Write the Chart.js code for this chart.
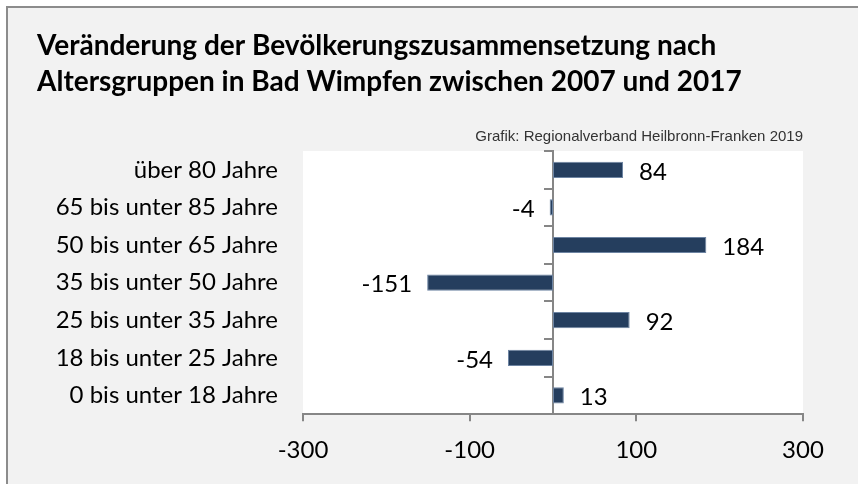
<!DOCTYPE html>
<html>
<head>
<meta charset="utf-8">
<script src="https://cdn.jsdelivr.net/npm/chart.js@4.4.1/dist/chart.umd.min.js"></script>
<style>
  html, body { margin: 0; padding: 0; background: #ffffff; }
  #frame { position: absolute; left: 6px; top: 6px; width: 900px; height: 560px; background: #f2f2f2; border: 2px solid #8c8c8c; }
  #wrap { position: absolute; left: 0; top: 0; width: 858px; height: 484px; }
</style>
</head>
<body>
<div id="frame"></div>
<div id="wrap"><canvas id="myChart" width="858" height="484"></canvas></div>
<script>
// Altersgruppen (von oben nach unten)
var categories = [
	'über 80 Jahre',
	'65 bis unter 85 Jahre',
	'50 bis unter 65 Jahre',
	'35 bis unter 50 Jahre',
	'25 bis unter 35 Jahre',
	'18 bis unter 25 Jahre',
	'0 bis unter 18 Jahre'
];
// Veränderung 2007 - 2017
var values = [84, -4, 184, -151, 92, -54, 13];
// x-Achse
var xTicks = [-300, -100, 100, 300];

var titleLines = [
	'Veränderung der Bevölkerungszusammensetzung nach',
	'Altersgruppen in Bad Wimpfen zwischen 2007 und 2017'
];
var sourceText = 'Grafik: Regionalverband Heilbronn-Franken 2019';

var labelFont = 'Lato';
var axisGray = '#868686';

//Plotfläche weiß
var plotBg = {
	id: 'plotBg',
	beforeDraw: function(chart){
		var a = chart.chartArea;
		var ctx = chart.ctx;
		ctx.save();
		ctx.fillStyle = '#ffffff';
		ctx.fillRect(a.left, a.top, a.right - a.left, a.bottom - a.top);
		ctx.restore();
	}
};

//Werte an den Balken
var barValues = {
	id: 'barValues',
	afterDatasetsDraw: function(chart){
		var ctx = chart.ctx;
		var meta = chart.getDatasetMeta(0);
		ctx.save();
		ctx.font = '24px ' + labelFont;
		ctx.fillStyle = '#000000';
		ctx.textBaseline = 'middle';
		meta.data.forEach(function(bar, i){
			var v = values[i];
			if(v >= 0){
				ctx.textAlign = 'left';
				ctx.fillText(String(v), bar.x + 16, bar.y + 2);
			}else{
				ctx.textAlign = 'right';
				ctx.fillText(String(v), bar.x - 15, bar.y + 2);
			}
		});
		ctx.restore();
	}
};

var ctx = document.getElementById('myChart').getContext('2d');
var myBarChart = new Chart(ctx, {
	type: 'bar',
	data: {
		labels: categories,
		datasets: [{
			data: values,
			yAxisID: 'y',
			backgroundColor: '#253e5e',
			borderColor: '#6d84a2',
			borderWidth: 1,
			borderSkipped: false,
			categoryPercentage: 1,
			barPercentage: 0.43
		}]
	},
	options: {
		indexAxis: 'y',
		responsive: false,
		animation: false,
		layout: {
			padding: {left: 37, right: 55, top: 28, bottom: 4}
		},
		plugins: {
			legend: {display: false},
			tooltip: {enabled: false},
			title: {
				display: true,
				text: titleLines,
				align: 'start',
				color: '#000000',
				font: {family: labelFont, size: 28, weight: 'bold', lineHeight: 1.286},
				padding: {top: 0, bottom: 0}
			},
			subtitle: {
				display: true,
				text: sourceText,
				align: 'end',
				color: '#333333',
				font: {family: 'Liberation Sans', size: 15, lineHeight: 1.2},
				padding: {top: 28, bottom: 5}
			}
		},
		scales: {
			x: {
				min: -300,
				max: 300,
				afterBuildTicks: function(axis){
					axis.ticks = xTicks.map(function(v){ return {value: v}; });
				},
				ticks: {
					color: '#000000',
					font: {family: labelFont, size: 24},
					padding: 15,
					maxRotation: 0
				},
				grid: {
					drawOnChartArea: false,
					drawTicks: true,
					tickLength: 7,
					color: axisGray,
					lineWidth: 2
				},
				border: {display: true, color: axisGray, width: 2}
			},
			y: {
				type: 'category',
				position: 'left',
				afterFit: function(axis){ axis.width = 266; },
				ticks: {
					color: '#000000',
					font: {family: labelFont, size: 24},
					padding: 25
				},
				grid: {display: false, drawTicks: false},
				border: {display: false}
			},
			yZero: {
				type: 'category',
				axis: 'y',
				position: {x: 0},
				labels: categories,
				offset: true,
				ticks: {display: false},
				grid: {
					drawOnChartArea: false,
					drawTicks: true,
					tickLength: 8,
					offset: true,
					color: axisGray,
					lineWidth: 2
				},
				border: {display: true, color: axisGray, width: 2}
			}
		}
	},
	plugins: [plotBg, barValues]
});
</script>
</body>
</html>
